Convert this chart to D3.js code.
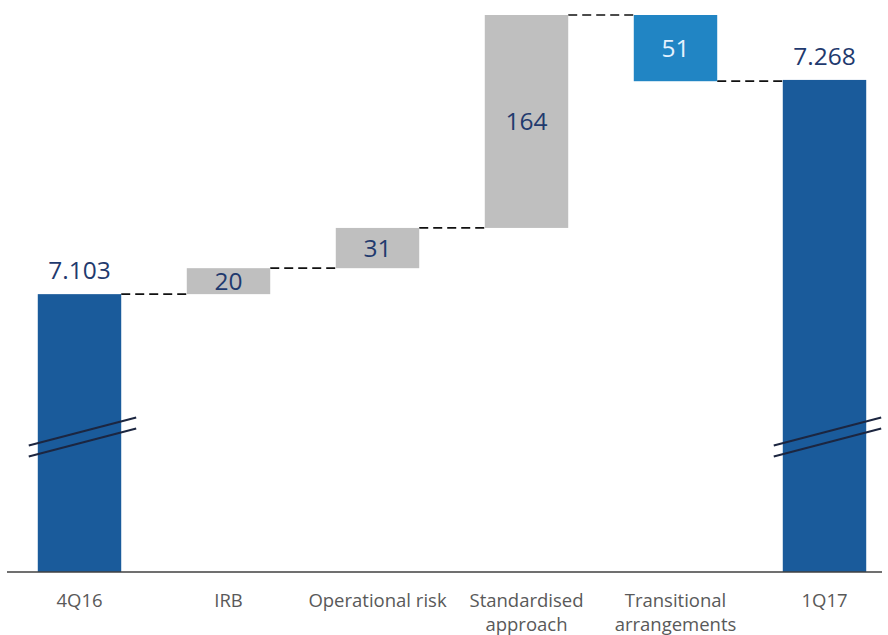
<!DOCTYPE html>
<html lang="en">
<head>
<meta charset="UTF-8">
<title>Waterfall 4Q16 - 1Q17</title>
<script src="https://d3js.org/d3.v7.min.js"></script>
<style>
    body { margin: 0; background: #fff; }
    svg { display: block; }
    .cat text { font-family: "Open Sans", sans-serif; font-size: 18.5px; fill: #595959; }
    .val { font-family: "Open Sans", sans-serif; font-size: 24.5px; text-anchor: middle; }
</style>
</head>
<body>
<svg width="888" height="635"></svg>
<script>
    // data
    const categories = ["4Q16", "IRB", "Operational risk", "Standardised approach", "Transitional arrangements", "1Q17"];
    const kinds = ["total", "delta", "delta", "delta", "delta", "total"];
    const values = [7103, 20, 31, 164, -51, 7268];
    const labels = ["7.103", "20", "31", "164", "51", "7.268"];

    const width = 888, height = 635;
    const baseY = 572;
    const svg = d3.select("svg");

    // broken axis: bottom of the scale is not zero
    const yMin = 6889, yMax = 7318;
    const y = d3.scaleLinear().domain([yMin, yMax]).range([baseY, 15]);
    const x = d3.scaleBand().domain(categories).range([5, 899]).paddingInner(0.44).paddingOuter(0.22);

    // build waterfall steps
    let running = 0;
    const steps = categories.map((c, i) => {
        let lo, hi;
        if (kinds[i] === "total") {
            running = values[i];
            lo = yMin; hi = values[i];
        } else {
            const start = running;
            running += values[i];
            lo = Math.min(start, running); hi = Math.max(start, running);
        }
        return { cat: c, kind: kinds[i], v: values[i], lo, hi, end: running, label: labels[i] };
    });

    function fillOf(d) {
        if (d.kind === "total") return "#1a5b9b";
        return d.v < 0 ? "#2185c4" : "#bfbfbf";
    }

    // connectors
    for (let i = 0; i < steps.length - 1; i++) {
        const lvl = steps[i].end;
        svg.append("line")
            .attr("x1", x(steps[i].cat) + x.bandwidth())
            .attr("x2", x(steps[i + 1].cat))
            .attr("y1", y(lvl)).attr("y2", y(lvl))
            .attr("stroke", "#111").attr("stroke-width", 1.7)
            .attr("stroke-dasharray", "9,5");
    }

    svg.selectAll(".bar")
        .data(steps)
        .enter()
        .append("rect")
        .attr("class", "bar")
        .attr("x", d => x(d.cat))
        .attr("width", x.bandwidth())
        .attr("y", d => y(d.hi))
        .attr("height", d => y(d.lo) - y(d.hi))
        .attr("fill", fillOf);

    // break marks on the total bars
    const yb = y(6993);
    steps.filter(d => d.kind === "total").forEach(d => {
        [-5.5, 5.5].forEach(o => {
            svg.append("line")
                .attr("x1", x(d.cat) - 9).attr("y1", yb + 14 + o)
                .attr("x2", x(d.cat) + x.bandwidth() + 15).attr("y2", yb - 14 + o)
                .attr("stroke", "#1c2640").attr("stroke-width", 2);
        });
    });

    // value labels
    svg.selectAll(".val")
        .data(steps)
        .enter()
        .append("text")
        .attr("class", "val")
        .attr("x", d => x(d.cat) + x.bandwidth() / 2)
        .attr("y", d => d.kind === "total" ? y(d.hi) - 15 : (y(d.lo) + y(d.hi)) / 2 + 8.5)
        .attr("fill", d => d.kind === "delta" && d.v < 0 ? "#e4f2ff" : "#1f3a6e")
        .text(d => d.label);

    // x axis
    const axis = svg.append("g")
        .attr("class", "cat")
        .attr("transform", `translate(0,${baseY})`)
        .call(d3.axisBottom(x).tickSize(0).tickPadding(0));
    axis.select(".domain").attr("stroke", "#404040").attr("stroke-width", 1.5).attr("d", "M7,0H882");
    axis.selectAll(".tick text").each(function (d) {
        const t = d3.select(this).text(null).attr("y", 0).attr("dy", null);
        const words = d === "Operational risk" ? [d] : d.split(" ");
        words.forEach((w, i) => {
            t.append("tspan").attr("x", 0).attr("y", 35 + i * 24).text(w);
        });
    });
</script>
</body>
</html>
